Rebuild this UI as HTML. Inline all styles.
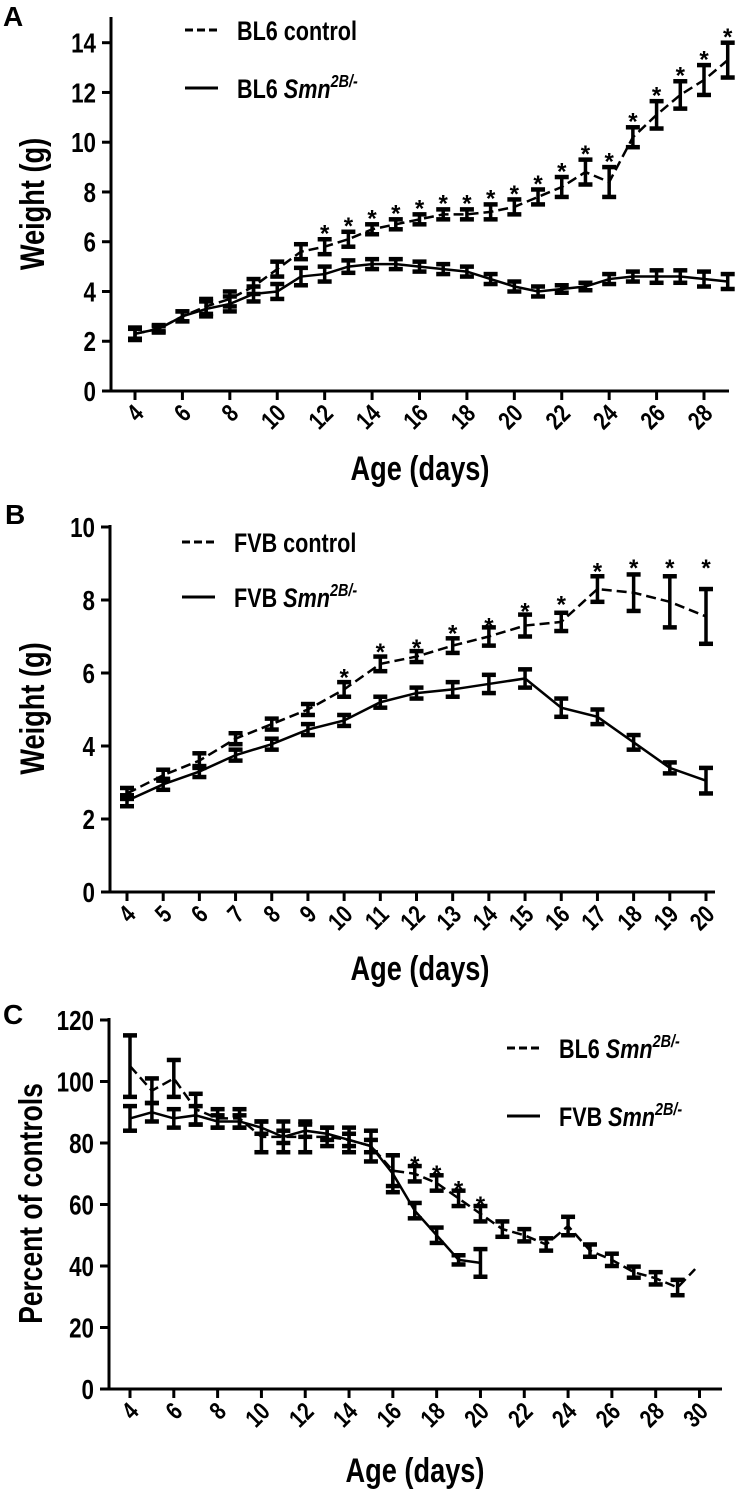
<!DOCTYPE html>
<html><head><meta charset="utf-8"><style>
html,body{margin:0;padding:0;background:#fff}
svg{display:block}
text{font-family:"Liberation Sans",Arial,sans-serif;font-weight:bold;fill:#000}
</style></head><body>
<svg id="fig" width="737" height="1491" viewBox="0 0 737 1491" xmlns="http://www.w3.org/2000/svg"></svg>
<script>
// Panel A data
const daysA = [4,5,6,7,8,9,10,11,12,13,14,15,16,17,18,19,20,21,22,23,24,25,26,27,28,29];
const bl6Control = [2.3,2.5,3.0,3.4,3.7,4.2,4.9,5.6,5.8,6.1,6.5,6.7,6.9,7.1,7.1,7.2,7.4,7.8,8.2,8.8,8.4,10.2,11.1,11.9,12.5,13.3];
const bl6ControlErr = [0.2,0.1,0.2,0.3,0.3,0.3,0.3,0.3,0.3,0.3,0.2,0.2,0.2,0.2,0.2,0.3,0.3,0.3,0.4,0.5,0.6,0.4,0.55,0.55,0.6,0.7];
const bl6Smn = [2.3,2.5,3.0,3.3,3.5,3.9,4.0,4.6,4.7,5.0,5.1,5.1,5.0,4.9,4.8,4.5,4.2,4.0,4.1,4.2,4.5,4.6,4.6,4.6,4.5,4.4];
const bl6SmnErr = [0.25,0.15,0.2,0.3,0.3,0.3,0.3,0.35,0.3,0.25,0.2,0.2,0.2,0.2,0.2,0.2,0.2,0.2,0.15,0.15,0.2,0.2,0.25,0.25,0.3,0.3];
const starsA = [12,13,14,15,16,17,18,19,20,21,22,23,24,25,26,27,28,29];
const ticksA = [4,6,8,10,12,14,16,18,20,22,24,26,28];
const yTicksA = [0,2,4,6,8,10,12,14];
// Panel B data
const daysB = [4,5,6,7,8,9,10,11,12,13,14,15,16,17,18,19,20];
const fvbControl = [2.7,3.2,3.6,4.2,4.6,5.0,5.55,6.25,6.45,6.75,7.0,7.3,7.4,8.3,8.2,7.95,7.55];
const fvbControlErr = [0.15,0.15,0.2,0.15,0.15,0.15,0.2,0.2,0.15,0.2,0.25,0.3,0.25,0.35,0.5,0.7,0.75];
const fvbSmn = [2.5,2.95,3.3,3.75,4.05,4.45,4.7,5.2,5.45,5.55,5.7,5.85,5.05,4.8,4.1,3.4,3.05];
const fvbSmnErr = [0.15,0.15,0.15,0.15,0.15,0.15,0.15,0.15,0.15,0.2,0.25,0.25,0.25,0.2,0.2,0.15,0.35];
const starsB = [10,11,12,13,14,15,16,17,18,19,20];
const starYB = [6.1,6.8,6.9,7.3,7.5,7.9,8.1,9.0,9.1,9.1,9.1];
const ticksB = [4,5,6,7,8,9,10,11,12,13,14,15,16,17,18,19,20];
const yTicksB = [0,2,4,6,8,10];
// Panel C data
const daysC1 = [4,5,6,7,8,9,10,11,12,13,14,15,16,17,18,19,20,21,22,23,24,25,26,27,28,29];
const bl6Pct = [105,97,101,91,88,88,82,82,82,82,81,79,71,70,67,62,57,52,50,47,53,45,42,38,36,33];
const bl6PctErr = [10,4,6,5,3,3,5,5,5,3,4,5,5,2.5,2.5,2.5,2.5,2.5,2,2,3,2,2,1.8,2,2.5];
const daysC2 = [4,5,6,7,8,9,10,11,12,13,14,15,16,17,18,19,20];
const fvbPct = [88,90,88,89,87,87,85,82,84,83,81,79,70,58,50,42,41];
const fvbPctErr = [4,3,3,3,2,2,2,2,2,2,2,2,6,2.5,2.5,1.5,4.5];
const starsC = [17,18,19,20];
const ticksC = [4,6,8,10,12,14,16,18,20,22,24,26,28,30];
const yTicksC = [0,20,40,60,80,100,120];

const svg = document.getElementById('fig');
const NS = 'http://www.w3.org/2000/svg';
function mk(tag, attrs, parent){
  const e = document.createElementNS(NS, tag);
  for (const k in attrs) e.setAttribute(k, attrs[k]);
  (parent||svg).appendChild(e);
  return e;
}
const SX = 0.8; // condensed font emulation

function panel(cfg){
  const g = mk('g', {});
  
  
  const X = d => cfg.x0 + (d - cfg.d0) * (cfg.x1 - cfg.x0) / (cfg.d1 - cfg.d0);
  const Y = v => cfg.y0 - v * (cfg.y0 - cfg.yTop) / cfg.vTop;
  const ya = mk('line', {x1:cfg.ax, y1:cfg.axTop, x2:cfg.ax, y2:cfg.y0, stroke:'#000','stroke-width':3}, g);
  
  
  const xa = mk('line', {x1:cfg.ax-9, y1:cfg.y0, x2:cfg.axRight, y2:cfg.y0, stroke:'#000','stroke-width':3}, g);
  
  
  cfg.yTicks.forEach(v => {
    mk('line', {x1:cfg.ax-9, y1:Y(v), x2:cfg.ax, y2:Y(v), stroke:'#000','stroke-width':3}, g);
    const t = mk('text', {x:0, y:0, 'text-anchor':'end','font-size':28,
      transform:`translate(${cfg.ax-15},${Y(v)+10}) scale(${SX},1)`}, g);
    t.textContent = v;
    
    
  });
  cfg.xTicks.forEach(d => {
    mk('line', {x1:X(d), y1:cfg.y0, x2:X(d), y2:cfg.y0+9, stroke:'#000','stroke-width':3}, g);
    const t = mk('text', {x:0, y:0, 'text-anchor':'end','font-size':25,
      transform:`translate(${X(d)+10},${cfg.y0+24}) rotate(-45) scale(${SX},1)`}, g);
    t.textContent = d;
    
    
  });
  if (cfg.extraTick) mk('line', {x1:X(cfg.extraTick), y1:cfg.y0, x2:X(cfg.extraTick), y2:cfg.y0+9, stroke:'#000','stroke-width':3}, g);
  const xt = mk('text', {x:0, y:0, 'text-anchor':'middle','font-size':34,
    transform:`translate(${cfg.xTitleX},${cfg.xTitleY}) scale(${SX},1)`}, g);
  xt.textContent = 'Age (days)';
  
  
  const yt = mk('text', {x:0, y:0, 'text-anchor':'middle','font-size':cfg.yTitleSize||34,
    transform:`translate(${cfg.yTitleX},${(cfg.axTop+cfg.y0)/2}) rotate(-90) scale(${SX},1)`}, g);
  yt.textContent = cfg.yTitle;
  
  
  const pl = mk('text', {x:cfg.labelX, y:cfg.labelY, 'font-size':28}, g);
  pl.textContent = cfg.label;
  
  
  cfg.series.forEach(s => {
    const pts = s.days.map((d,i) => `${X(d)},${Y(s.vals[i])}`);
    if (s.tail) pts.push(`${X(s.tail[0])},${Y(s.tail[1])}`);
    const p = mk('polyline', {points:pts.join(' '), fill:'none', stroke:'#000','stroke-width':2.5,
      'stroke-dasharray': s.dash ? '10,5' : 'none'}, g);
    
    
    s.days.forEach((d,i) => {
      const x = X(d), hi = Y(s.vals[i]+s.err[i]), lo = Y(s.vals[i]-s.err[i]);
      const eg = mk('g', {stroke:'#000','stroke-width':3.5}, g);
      
      
      mk('line', {x1:x, y1:hi-1.5, x2:x, y2:lo+1.5}, eg);
      mk('line', {x1:x-7, y1:hi, x2:x+7, y2:hi, 'stroke-width':4.5}, eg);
      mk('line', {x1:x-7, y1:lo, x2:x+7, y2:lo, 'stroke-width':4.5}, eg);
    });
  });
  cfg.stars.forEach((d,i) => {
    const st = mk('text', {x:X(d), y:Y(cfg.starY(d,i))+16, 'text-anchor':'middle','font-size':24}, g);
    st.textContent = '*';
    
    
  });
  cfg.legend.forEach(l => {
    const lg = mk('g', {}, g);
    
    
    mk('line', {x1:l.x, y1:l.y, x2:l.x+33, y2:l.y, stroke:'#000','stroke-width':3,
      'stroke-dasharray': l.dash ? '8,4' : 'none'}, lg);
    const t = mk('text', {x:0, y:0, 'font-size':27,
      transform:`translate(${l.x+52},${l.y+10}) scale(${SX},1)`}, lg);
    if (l.smn) {
      t.appendChild(document.createTextNode(l.strain + ' '));
      const i1 = mk('tspan', {'font-style':'italic'}, t); i1.textContent = 'Smn';
      const s1 = mk('tspan', {'font-style':'italic', dy:-11, 'font-size':18}, t); s1.textContent = '2B/-';
    } else t.textContent = l.strain + ' control';
  });
}

function starAt(vals, err, days, pad){ return (d) => { const i = days.indexOf(d); return vals[i] + err[i] + pad; }; }

panel({name:'panel-a', label:'A', labelX:3, labelY:26, ax:111, axTop:17, axRight:729, y0:391, yTop:42.7, vTop:14,
  x0:135, x1:704, d0:4, d1:28, xTicks:ticksA, yTicks:yTicksA, xTitleX:420, xTitleY:480,
  yTitle:'Weight (g)', yTitleX:44,
  series:[{name:'bl6-control', days:daysA, vals:bl6Control, err:bl6ControlErr, dash:true},
          {name:'bl6-smn', days:daysA, vals:bl6Smn, err:bl6SmnErr, dash:false}],
  stars:starsA, starY:starAt(bl6Control, bl6ControlErr, daysA, 0.55),
  legend:[{x:185, y:30, dash:true, strain:'BL6'},{x:185, y:88, dash:false, strain:'BL6', smn:true}]});

panel({name:'panel-b', label:'B', labelX:5, labelY:524, ax:110, axTop:525, axRight:715, y0:892, yTop:527, vTop:10,
  x0:127, x1:706, d0:4, d1:20, xTicks:ticksB, yTicks:yTicksB, xTitleX:420, xTitleY:980,
  yTitle:'Weight (g)', yTitleX:44,
  series:[{name:'fvb-control', days:daysB, vals:fvbControl, err:fvbControlErr, dash:true},
          {name:'fvb-smn', days:daysB, vals:fvbSmn, err:fvbSmnErr, dash:false}],
  stars:starsB, starY:(d,i) => starYB[i],
  legend:[{x:182, y:542, dash:true, strain:'FVB'},{x:182, y:597, dash:false, strain:'FVB', smn:true}]});

panel({name:'panel-c', label:'C', labelX:3, labelY:1024, ax:109, axTop:1018, axRight:722, y0:1389, yTop:1020, vTop:120,
  x0:130, x1:699.5, d0:4, d1:30, xTicks:ticksC, yTicks:yTicksC, xTitleX:415, xTitleY:1482,
  yTitle:'Percent of controls', yTitleX:42, yTitleSize:33,
  series:[{name:'bl6-percent', days:daysC1, vals:bl6Pct, err:bl6PctErr, dash:true, tail:[29.8,39]},
          {name:'fvb-percent', days:daysC2, vals:fvbPct, err:fvbPctErr, dash:false}],
  stars:starsC, starY:starAt(bl6Pct, bl6PctErr, daysC1, 3),
  legend:[{x:507, y:1048, dash:true, strain:'BL6', smn:true},{x:507, y:1116, dash:false, strain:'FVB', smn:true}]});
</script>
</body></html>
